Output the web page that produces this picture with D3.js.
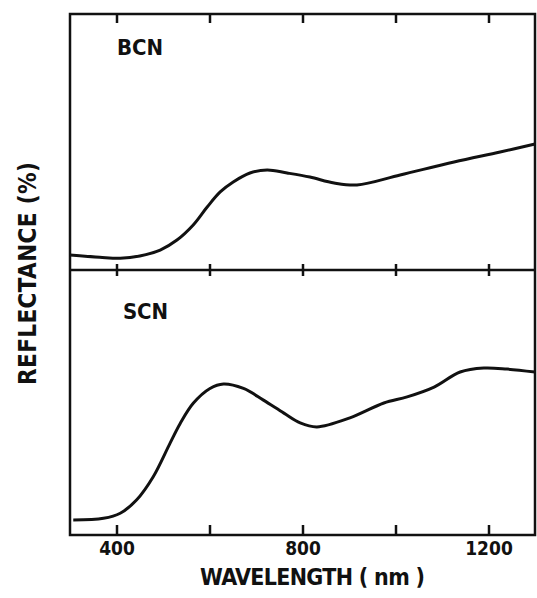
<!DOCTYPE html>
<html>
<head>
<meta charset="utf-8">
<script src="https://cdn.jsdelivr.net/npm/d3@7"></script>
<style>
  body { margin: 0; background: #fff; }
  text { font-family: "DejaVu Sans Condensed", "DejaVu Sans", sans-serif; font-weight: bold; fill: #111; }
</style>
</head>
<body>
<svg id="chart"></svg>
<script>
const width = 537;
const height = 598;

// wavelength (nm) ticks, only every other one labelled
const xTicks = [400, 600, 800, 1000, 1200];
const xLabels = [400, 800, 1200];

// BCN reflectance, arbitrary units (panel = 0..100)
const bcnWave = [300, 364, 408, 450, 494, 530, 565, 595, 623, 651, 687, 724, 767, 816, 868, 917, 1010, 1126, 1225, 1300];
const bcnRefl = [5.9, 5.0, 4.6, 5.5, 7.8, 11.7, 17.6, 24.6, 30.5, 34.4, 37.9, 39.1, 37.9, 36.3, 34.0, 33.2, 37.1, 42.2, 46.1, 49.2];

// SCN reflectance, arbitrary units (panel = 0..100)
const scnWave = [307, 372, 408, 443, 479, 515, 537, 565, 601, 630, 673, 716, 760, 795, 831, 902, 975, 1025, 1083, 1139, 1190, 1240, 1300];
const scnRefl = [5.7, 6.3, 8.2, 13.2, 22.0, 34.6, 42.1, 49.7, 55.3, 57.0, 55.3, 50.9, 46.0, 42.3, 40.8, 44.2, 49.8, 52.1, 55.8, 61.5, 63.0, 62.6, 61.5];

const pLeft = 70, pRight = 535, pTop = 14, pMid = 270, pBottom = 535;

const svg = d3.select("#chart")
    .attr("width", width)
    .attr("height", height);

const x = d3.scaleLinear().domain([300, 1300]).range([pLeft, pRight]);
const yTop = d3.scaleLinear().domain([0, 100]).range([pMid, pTop]);
const yBot = d3.scaleLinear().domain([0, 100]).range([pBottom, pMid]);

// frame
svg.append("rect")
    .attr("x", pLeft).attr("y", pTop)
    .attr("width", pRight - pLeft).attr("height", pBottom - pTop)
    .attr("fill", "none").attr("stroke", "#111").attr("stroke-width", 2.5);

svg.append("line")
    .attr("x1", pLeft).attr("x2", pRight)
    .attr("y1", pMid).attr("y2", pMid)
    .attr("stroke", "#111").attr("stroke-width", 2.5);

// top ticks, pointing in
svg.append("g")
    .attr("transform", `translate(0,${pTop})`)
    .call(d3.axisBottom(x).tickValues(xTicks).tickSize(9).tickFormat(""));

// middle ticks, crossing the divider
const midAxis = svg.append("g")
    .attr("transform", `translate(0,${pMid})`)
    .call(d3.axisBottom(x).tickValues(xTicks).tickSize(6).tickFormat(""));
midAxis.selectAll(".tick line").attr("y1", -6);

// bottom axis, ticks pointing up
const botAxis = svg.append("g")
    .attr("transform", `translate(0,${pBottom})`)
    .call(d3.axisBottom(x).tickValues(xTicks).tickSize(-10).tickPadding(7)
        .tickFormat(d => xLabels.includes(d) ? d : ""));

svg.selectAll(".domain").remove();
svg.selectAll(".tick line").attr("stroke", "#111").attr("stroke-width", 2.5);
botAxis.selectAll(".tick text")
    .style("font-size", "19px")
    .style("font-family", "'DejaVu Sans Condensed', 'DejaVu Sans', sans-serif")
    .style("font-weight", "bold")
    .attr("fill", "#111");

// curves
const lineTop = d3.line().x((d, i) => x(bcnWave[i])).y(d => yTop(d)).curve(d3.curveCatmullRom);
const lineBot = d3.line().x((d, i) => x(scnWave[i])).y(d => yBot(d)).curve(d3.curveCatmullRom);

svg.append("path")
    .attr("d", lineTop(bcnRefl))
    .attr("fill", "none").attr("stroke", "#111").attr("stroke-width", 3);

svg.append("path")
    .attr("d", lineBot(scnRefl))
    .attr("fill", "none").attr("stroke", "#111").attr("stroke-width", 3);

// panel labels
svg.append("text")
    .attr("x", 117).attr("y", 55)
    .attr("font-size", 22)
    .attr("textLength", 46).attr("lengthAdjust", "spacing")
    .text("BCN");

svg.append("text")
    .attr("x", 123).attr("y", 319)
    .attr("font-size", 22)
    .attr("textLength", 45).attr("lengthAdjust", "spacing")
    .text("SCN");

// axis titles
svg.append("text")
    .attr("x", 200).attr("y", 585)
    .attr("font-size", 23)
    .attr("textLength", 225).attr("lengthAdjust", "spacing")
    .text("WAVELENGTH ( nm )");

svg.append("text")
    .attr("transform", "translate(36,385) rotate(-90)")
    .attr("font-size", 24)
    .attr("textLength", 223).attr("lengthAdjust", "spacing")
    .text("REFLECTANCE (%)");
</script>
</body>
</html>
